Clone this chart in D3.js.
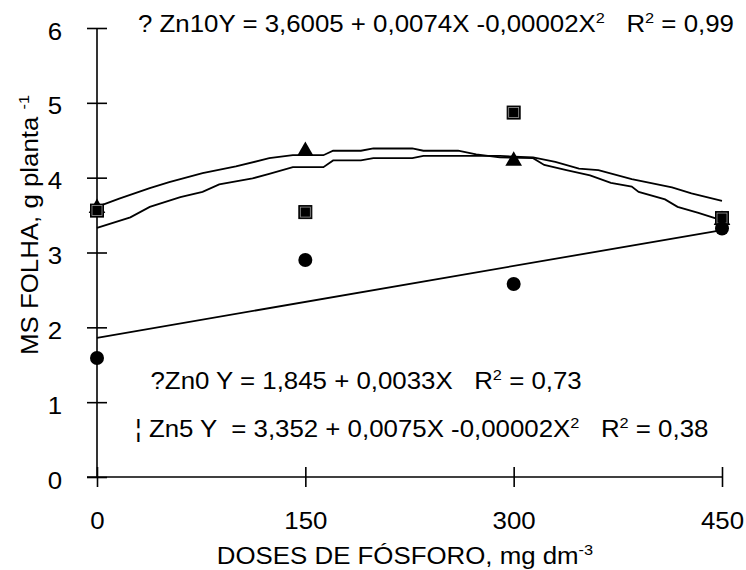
<!DOCTYPE html>
<html>
<head>
<meta charset="utf-8">
<script src="https://cdn.jsdelivr.net/npm/d3@7"></script>
<style>
  html, body { margin: 0; padding: 0; background: #fff; }
  svg text { font-family: "Liberation Sans", Arial, sans-serif; fill: #000; white-space: pre; }
</style>
</head>
<body>
<svg id="chart" width="746" height="570"></svg>
<script>
// ---- data ----
const doses = [0, 150, 300, 450];
const zn0Values = [1.59, 2.90, 2.58, 3.32];   // circles
const zn5Values = [3.56, 3.54, 4.87, 3.46];   // squares
const zn10Values = [3.58, 4.34, 4.21, 3.42];  // triangles

// fitted Zn0 line end points
const zn0FitX = [0, 450];
const zn0FitY = [1.86, 3.30];

// fitted curve (starts 3.6, ends 3.4)
const curveAX = [0, 16, 38, 52, 76, 100, 124, 141, 163, 170, 190, 199, 227, 235, 260, 273, 290, 314, 322, 338, 355, 370, 385, 390, 409, 418, 433, 450];
const curveAY = [3.61, 3.72, 3.86, 3.94, 4.06, 4.15, 4.26, 4.30, 4.30, 4.36, 4.36, 4.39, 4.39, 4.36, 4.36, 4.31, 4.27, 4.26, 4.17, 4.10, 4.03, 3.93, 3.88, 3.81, 3.71, 3.61, 3.53, 3.43];
// fitted curve (starts 3.33, ends 3.7)
const curveBX = [0, 24, 38, 60, 76, 88, 112, 124, 141, 163, 170, 190, 199, 227, 235, 290, 314, 330, 347, 361, 385, 414, 428, 450];
const curveBY = [3.33, 3.47, 3.61, 3.74, 3.81, 3.91, 3.99, 4.05, 4.14, 4.14, 4.23, 4.23, 4.26, 4.26, 4.29, 4.29, 4.27, 4.21, 4.12, 4.10, 3.98, 3.87, 3.79, 3.69];

const xTicks = [0, 150, 300, 450];
const yTicks = [0, 1, 2, 3, 4, 5, 6];

const xTitle = [["DOSES DE FÓSFORO, mg dm", false], ["-3", true]];
const yTitle = [["MS FOLHA, g planta ", false], ["-1", true]];
const eqTop = [["? Zn10Y = 3,6005 + 0,0074X -0,00002X", false], ["2", true], ["   R", false], ["2", true], [" = 0,99", false]];
const eqZn0 = [["?Zn0 Y = 1,845 + 0,0033X   R", false], ["2", true], [" = 0,73", false]];
const eqZn5 = [["¦ Zn5 Y  = 3,352 + 0,0075X -0,00002X", false], ["2", true], ["   R", false], ["2", true], [" = 0,38", false]];

// ---- drawing ----
const FS = 24.5, SUP = 15.5, SX = 1.055;
const svg = d3.select("#chart");
const x = d3.scaleLinear().domain([0, 450]).range([97, 722]);
const y = d3.scaleLinear().domain([0, 6]).range([477, 28]);

// axes
const xAxis = svg.append("g").attr("transform", `translate(0,${y(0)})`)
  .call(d3.axisBottom(x).tickValues(xTicks).tickSize(10).tickPadding(25).tickFormat(d3.format("d")));
xAxis.select(".domain").remove();
xAxis.append("line").attr("x1", x(0) - 10).attr("x2", x(450)).attr("stroke", "#000").attr("stroke-width", 1.6);
xAxis.selectAll(".tick line").attr("y1", -10).attr("y2", 10).attr("stroke", "#000").attr("stroke-width", 1.6);
xAxis.selectAll(".tick text").attr("font-size", FS).attr("font-family", "Liberation Sans, Arial, sans-serif")
  .attr("fill", "#000").attr("transform", `scale(${SX},1)`);

const yAxis = svg.append("g").attr("transform", `translate(${x(0)},0)`)
  .call(d3.axisLeft(y).tickValues(yTicks).tickSize(10).tickPadding(23).tickFormat(d3.format("d")));
yAxis.select(".domain").remove();
yAxis.append("line").attr("y1", y(6)).attr("y2", y(0)).attr("stroke", "#000").attr("stroke-width", 1.6);
yAxis.selectAll(".tick line").attr("x1", -10).attr("x2", 10).attr("stroke", "#000").attr("stroke-width", 1.6);
yAxis.selectAll(".tick text").attr("font-size", FS).attr("font-family", "Liberation Sans, Arial, sans-serif")
  .attr("fill", "#000").attr("dy", "0.45em").attr("transform", `scale(${SX},1)`);

// fitted lines
const line = d3.line().x(d => x(d[0])).y(d => y(d[1]));
const toPts = (xs, ys) => xs.map((v, i) => [v, ys[i]]);
[toPts(zn0FitX, zn0FitY), toPts(curveAX, curveAY), toPts(curveBX, curveBY)].forEach(p => {
  svg.append("path").attr("d", line(p)).attr("fill", "none").attr("stroke", "#000").attr("stroke-width", 1.8);
});

// markers
const tri = d3.symbol().type(d3.symbolTriangle).size(120);
svg.append("g").selectAll("path").data(doses).join("path")
  .attr("d", tri).attr("transform", (d, i) => `translate(${x(d)},${y(zn10Values[i]) - 1})`).attr("fill", "#000");
svg.append("g").selectAll("rect").data(doses).join("rect")
  .attr("x", d => x(d) - 6.5).attr("y", (d, i) => y(zn5Values[i]) - 6.5)
  .attr("width", 13).attr("height", 13).attr("fill", "#000").attr("stroke", "#000").attr("stroke-width", 1);
svg.append("g").selectAll("rect").data(doses).join("rect")
  .attr("x", d => x(d) - 5).attr("y", (d, i) => y(zn5Values[i]) - 5)
  .attr("width", 10).attr("height", 10).attr("fill", "none").attr("stroke", "#999").attr("stroke-width", 0.8);
svg.append("g").selectAll("circle").data(doses).join("circle")
  .attr("cx", d => x(d)).attr("cy", (d, i) => y(zn0Values[i])).attr("r", 7).attr("fill", "#000");

// rich text helper (superscripts via tspans)
function rich(transform, parts, anchor) {
  const t = svg.append("text").attr("transform", transform).attr("font-size", FS);
  if (anchor) t.attr("text-anchor", anchor);
  parts.forEach(([s, sup], i) => {
    const ts = t.append("tspan").text(s).attr("font-size", sup ? SUP : FS);
    if (sup) ts.attr("dy", -9.5);
    else if (i > 0 && parts[i - 1][1]) ts.attr("dy", 9.5);
  });
  return t;
}

rich(`translate(138,32) scale(${SX},1)`, eqTop);
rich(`translate(150.5,389) scale(${SX},1)`, eqZn0);
rich(`translate(135,437) scale(${SX},1)`, eqZn5);

rich(`translate(405,564) scale(${SX},1)`, xTitle, "middle");
rich(`translate(38,225) rotate(-90) scale(${SX},1)`, yTitle, "middle");
</script>
</body>
</html>
